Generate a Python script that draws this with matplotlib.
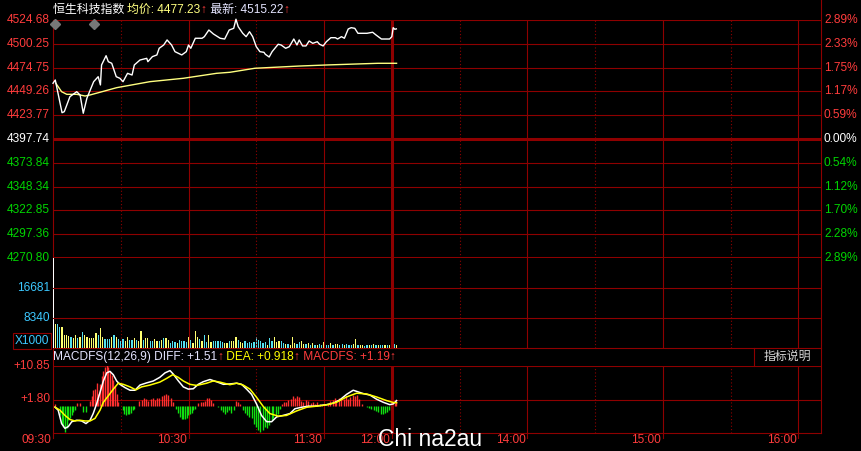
import matplotlib
matplotlib.use("Agg")
import matplotlib.pyplot as plt
from matplotlib.transforms import blended_transform_factory
import numpy as np

W, H = 862, 451
plt.rcParams['font.family'] = ['Liberation Sans', 'Noto Sans CJK SC', 'DejaVu Sans']

# ---- 分时数据 (分钟, 从 09:30 起; 12:00 与 13:00 重合于 150) ----
price_min = [0, 1, 4, 5, 7.5, 10.5, 12, 13.4, 15, 18, 20, 21, 21.5, 23.5, 24.5, 26, 28, 29.6,
             31, 33, 35, 36, 38.5, 41.5, 42, 44, 46, 47, 49, 50.5, 52.5, 54, 57, 59, 60, 61,
             63, 66, 67, 69, 71, 74, 76, 78, 80, 81, 82, 84, 85.5, 87, 88.4, 90, 91.6, 93.4,
             94, 95.7, 97, 99.7, 101, 103, 104.6, 106.6, 108, 109, 110.5, 112, 113.4, 115,
             117, 118, 119.6, 121, 123, 125, 126, 127.7, 129, 130.7, 132, 133.6, 135, 139,
             141.5, 143, 145.4, 149, 150, 150.6, 151.3, 152]
price_val = [4457.2, 4460.7, 4425.8, 4426.9, 4442.9, 4448.2, 4444.7, 4425.2, 4441.2, 4458.9,
             4464.2, 4455.4, 4476.7, 4486.6, 4480.2, 4478.5, 4464.2, 4462.5, 4458.9, 4467.8,
             4466.0, 4476.7, 4482.0, 4483.8, 4480.2, 4485.6, 4487.4, 4494.5, 4498.0, 4503.4,
             4498.0, 4490.9, 4487.4, 4490.9, 4498.0, 4494.5, 4505.2, 4505.2, 4506.9, 4514.0,
             4509.8, 4505.2, 4504.4, 4514.0, 4515.8, 4525.5, 4517.5, 4510.5, 4506.9, 4512.2,
             4506.9, 4496.2, 4490.9, 4490.2, 4488.1, 4485.2, 4490.9, 4498.8, 4498.0, 4494.5,
             4496.2, 4504.4, 4498.0, 4503.4, 4497.0, 4497.0, 4502.3, 4499.8, 4501.5, 4498.8,
             4497.0, 4501.5, 4505.8, 4505.8, 4504.4, 4506.9, 4505.2, 4515.1, 4516.5, 4515.8,
             4510.5, 4510.5, 4511.6, 4508.7, 4504.4, 4504.4, 4506.9, 4516.5, 4514.8, 4515.2]

avg_min = [1.3, 3.8, 6.1, 10.5, 14.2, 16.4, 20.8, 28.2, 42.9, 57.7, 72.4, 78.3, 89.4, 109.3,
           121.1, 143.9, 152.1]
avg_val = [4457.0, 4448.2, 4445.4, 4445.4, 4443.6, 4444.7, 4447.6, 4452.5, 4458.9, 4462.5,
           4467.8, 4468.9, 4473.2, 4475.6, 4476.7, 4478.5, 4478.5]

# 成交量 (X1000), 每分钟一根
vol = [25000,
       6670, 6670, 5750, 5930, 3615, 3615, 3430, 2970, 2870, 3615,
       2690, 3150, 4450, 3615, 2970, 2780, 2780, 2780, 4260, 3615,
       5560, 3150, 2600, 2600, 2600, 2970, 3710, 3150, 2410, 2040,
       2600, 2040, 3060, 2220, 2220, 2780, 2220, 2040, 4820, 2220,
       2690, 2690, 2040, 1950, 2600, 2040, 2040, 2220, 2780, 2690,
       2220, 1480, 2040, 1670, 1480, 2220, 1850, 1850, 1670, 3150,
       2220, 1300, 4730, 2970, 2410, 1850, 3710, 1670, 3710, 1670,
       1850, 1850, 2040, 1850, 1670, 1300, 1300, 2040, 1850, 1850,
       2970, 2220, 1670, 1300, 1850, 1480, 1670, 1480, 1670, 2970,
       2220, 1850, 1300, 1670, 930, 2780, 1850, 2970, 1670, 2040,
       2040, 1300, 1110, 1110, 930, 2970, 1300, 1110, 1670, 2040,
       1110, 1110, 1480, 930, 1480, 740, 740, 1110, 740, 1670,
       740, 930, 1300, 740, 1110, 1110, 930, 1110, 740, 1110,
       740, 740, 1110, 2410, 740, 930, 740, 560,
       740, 930, 740, 1110, 740, 930, 740,
       740, 740, 740, 930,
       3520, 1110, 740]
vol_dir = ("W"
           "YCCYYYYCYY" "CYCYYYYYYC" "YYCCCYCYCC" "CYYCCYCYYC" "YYCCYYCYCY" "YCCCYCCCCY"
           "CYYYCYCCYY" "CCCCCYYCYY" "YCYYCCCCCC" "CCCCYCCYYY" "CCYCYYYCCY"
           "YCYCYCYCCY" "CCYCYYCCYC" "CCYYCYYC" "CYCYCYC" "CYCY"
           "YCY")

# MACD
diff_min = [0.9, 2.3, 3.8, 5.3, 6.8, 8.3, 10.5, 12.7, 14.6, 16.4, 17.8, 19.3, 20.8, 22.3, 23.8,
            25.2, 26.7, 28.2, 29.6, 31.9, 34.1, 36.3, 38.5, 41.5, 44.4, 47.3, 49.6, 51.8, 53.2,
            55.4, 57.7, 59.9, 62.1, 64.3, 66.5, 69.5, 72.4, 75.4, 78.3, 81.3, 83.5, 85.7, 87.9,
            90.1, 92.3, 94.6, 96.8, 99, 101.9, 104.9, 107.1, 110, 113, 115.9, 121.1, 124, 127,
            130, 132.9, 134.4, 137.3, 140.3, 143.2, 146.2, 149.1, 150.6, 152.1]
diff_val = [-0.26, -1.1, -4.7, -6.0, -5.5, -4.2, -3.8, -4.0, -4.7, -3.8, -2.0, 0.6, 3.7, 6.8, 9.0,
            9.4, 8.5, 6.8, 5.9, 5.0, 4.3, 4.3, 5.7, 6.3, 6.8, 7.8, 9.0, 9.6, 8.7,
            6.9, 5.2, 4.6, 4.7, 5.9, 6.6, 7.2, 6.6, 5.9, 6.0, 6.2, 5.9, 4.6, 3.2,
            0.6, -2.5, -4.2, -4.2, -2.9, -2.5, -2.0, -0.7, -0.3, 0.0, 0.0, 0.4, 0.8, 1.7,
            3.2, 4.3, 4.0, 3.4, 3.0, 1.9, 1.05, 0.4, 0.6, 1.51]
dea_min = [0.9, 3.1, 5.3, 7.5, 9.7, 11.9, 14.2, 16.4, 18.6, 20.8, 22.3, 24.5, 26.7, 28.9, 31.1,
           34.1, 36.7, 39.2, 42.9, 47.3, 50.3, 53, 55.4, 57.7, 60.6, 63.6, 68, 70.9, 73.9,
           78.3, 81.3, 84.2, 87.2, 90.1, 93.1, 96, 99.7, 103.4, 107.8, 112.3, 116.7, 121.1,
           125.5, 130, 134.4, 138.8, 143.2, 147.7, 150.6, 152.1]
dea_val = [-0.26, -1.1, -2.5, -3.6, -4.0, -3.8, -4.0, -4.0, -3.3, -1.1, 1.05, 2.8, 4.6, 6.2, 5.9,
           5.2, 4.4, 5.2, 5.7, 6.5, 7.5, 8.5, 7.8, 6.8, 5.9, 5.6, 6.2, 6.8, 6.5,
           5.8, 6.2, 5.7, 4.6, 2.4, -0.1, -2.0, -2.7, -2.5, -1.3, -0.3, 0.0, 0.35,
           1.05, 2.5, 3.5, 3.3, 2.5, 1.5, 1.0, 0.918]
hist_min = [0.9, 3.1, 3.8, 4.6, 5.3, 6.0, 6.8, 7.5, 8.3, 9.0, 9.7, 10.5, 11.9, 13.4, 14.6,
            16.4, 17.1, 17.8, 18.6, 19.3, 20.0, 20.8, 21.5, 22.3, 23.0, 23.8, 24.5, 25.2, 26.0,
            26.7, 27.4, 28.2, 28.9, 30.8, 31.6, 32.3, 33.0, 33.8, 34.5, 35.3, 36.0, 38.2, 39.2,
            40.3, 41.2, 42.2, 43.2, 44.1, 45.1, 46.2, 47.0, 48.1, 49.1, 50.0, 51.0, 52.1, 53.2,
            54.4, 55.4, 56.2, 56.9, 57.7, 58.4, 59.2, 59.9, 60.6, 61.4, 62.1, 62.8, 64.3, 65.4,
            66.2, 67.3, 68.0, 69.0, 69.9, 70.9, 73.1, 74.2, 75.1, 76.1, 77.1, 78.0, 79.0, 80.0,
            81.0, 82.0, 83.0, 84.2, 85.0, 86.0, 86.9, 87.9, 88.9, 89.8, 90.8, 91.6, 92.8, 93.8,
            94.6, 95.7, 96.8, 97.5, 98.7, 99.7, 100.4, 101.2, 102.2, 103.1, 104.1, 105.2, 106.1,
            107.1, 107.8, 109.0, 110.0, 110.8, 112.0, 113.0, 114.0, 115.2, 115.9, 117.0, 118.1,
            118.9, 121.8, 122.6, 123.8, 124.8, 125.5, 126.7, 127.7, 128.8, 129.6, 130.7, 131.4,
            132.6, 133.6, 134.4, 135.5, 136.6, 138.8, 140.0, 141.0, 142.0, 142.9, 143.9, 145.0,
            146.2, 146.9, 147.9, 148.8, 151.3, 152.0]
hist_val = [0.6, -2.5, -4.7, -5.5, -6.9, -6.0, -3.8, -3.3, -2.5, -1.6, -1.0, 0.8, 0.8, -1.6, -1.6,
            1.5, 2.8, 4.3, 4.6, 6.3, 3.3, 6.1, 8.1, 9.4, 10.5, 11.5, 10.5, 9.4, 8.5,
            7.2, 5.4, 3.3, 1.05, -1.1, -2.0, -2.5, -2.0, -2.2, -1.8, -1.1, -0.7, 1.3, 1.7,
            2.2, 1.9, 1.5, 1.9, 2.1, 1.7, 2.2, 2.2, 2.8, 3.1, 3.3, 3.1, 2.2, 1.05,
            -0.7, -1.8, -2.9, -3.6, -3.6, -3.6, -3.3, -2.5, -2.0, -1.8, -1.1, -0.7, 0.8, 1.05,
            1.2, 1.3, 2.1, 2.1, 1.7, 0.8, -0.3, -1.1, -1.6, -2.0, -1.6, -1.1, -1.8, -1.1,
            1.5, 1.05, 0.6, -1.1, -1.8, -2.5, -2.9, -3.3, -4.7, -5.5, -6.4, -6.9, -6.4, -5.5,
            -6.0, -5.1, -3.8, -3.3, -2.7, -2.0, -0.7, 0.6, 1.05, 1.05, 1.7, 1.9, 2.8,
            2.2, 2.8, 2.4, 1.5, 1.05, 1.7, 1.3, 0.8, 1.05, 0.6, 1.05, 0.6,
            0.4, 0.6, 1.3, 1.7, 2.2, 1.7, 2.2, 2.2, 1.9, 2.8, 1.9, 2.4,
            3.1, 2.8, 3.1, 1.9, 0.6, -0.3, -0.4, -0.7, -1.1, -1.3, -1.6, -2.0,
            -2.2, -1.8, -1.6, -1.1, 0.8, 1.3]

event_min = [1, 18]

price_labels = ["4270.80", "4297.36", "4322.85", "4348.34", "4373.84", "4397.74",
                "4423.77", "4449.26", "4474.75", "4500.25", "4524.68"]
pct_labels = ["2.89%", "2.28%", "1.70%", "1.12%", "0.54%", "0.00%",
              "0.59%", "1.17%", "1.75%", "2.33%", "2.89%"]
vol_ticks = [8340, 16681]
vol_top = 25021
macd_ticks = [1.80, 10.85]
macd_low = -7.25
time_pos = [0, 60, 120, 150, 210, 270, 330]
time_labels = ["09:30", "10:30", "11:30", "12:00", "14:00", "15:00", "16:00"]
solid_min = [60, 120, 210, 270, 330]
dotted_min = [30, 90, 180, 240, 300]
break_min = 150
day_end = 340

# ---- 样式 ----
BG = "black"
GRID = "#8e0000"
RED = "#ff3c3c"
GREEN = "#00d400"
CYAN = "#3cc8ff"
YEL = "#ffff80"
FS = 8.6

fig = plt.figure(figsize=(W / 100, H / 100), dpi=100, facecolor=BG)

ov = fig.add_axes([0, 0, 1, 1], zorder=0)
ov.set_xlim(0, W)
ov.set_ylim(H, 0)
ov.set_axis_off()


def px_axes(x0, y0, x1, y1):
    a = fig.add_axes([x0 / W, 1 - y1 / H, (x1 - x0) / W, (y1 - y0) / H], zorder=1)
    a.set_xlim(0, day_end)
    a.set_axis_off()
    return a


def vgrid(a):
    for m in solid_min:
        a.axvline(m, color=GRID, lw=0.8)
    for m in dotted_min:
        a.axvline(m, color=GRID, lw=0.8, ls=(0, (1, 2)))
    a.axvline(break_min, color=GRID, lw=2.2)


def left_label(a, y, s, c):
    a.annotate(s, xy=(0, y), xycoords=("axes fraction", "data"), xytext=(-3, 0),
               textcoords="offset pixels", ha="right", va="center", color=c, fontsize=FS)


# 价格区
ax = px_axes(53, 20, 821, 258)
lo, hi = float(price_labels[0]), float(price_labels[-1])
ax.set_ylim(lo, hi)
levels = np.linspace(lo, hi, len(price_labels))
vgrid(ax)
for i, (lv, s, p) in enumerate(zip(levels, price_labels, pct_labels)):
    mid = len(levels) // 2
    ax.axhline(lv, color=GRID, lw=2.2 if i in (0, mid) else 0.8)
    c = "white" if i == mid else (GREEN if i < mid else RED)
    left_label(ax, lv, s, c)
    ax.annotate(p, xy=(1, lv), xycoords=("axes fraction", "data"), xytext=(3, 0),
                textcoords="offset pixels", ha="left", va="center", color=c, fontsize=FS)
ax.plot(avg_min, avg_val, color=YEL, lw=1.0)
ax.plot(price_min, price_val, color="white", lw=1.0, clip_on=False)
tr = blended_transform_factory(ax.transData, ax.transAxes)
ax.plot(event_min, [0.985] * len(event_min), "D", color="#777777", ms=5.5, transform=tr,
        clip_on=False)

# 成交量
av = px_axes(53, 258, 821, 348)
av.set_ylim(0, vol_top)
vgrid(av)
for v in vol_ticks:
    av.axhline(v, color=GRID, lw=0.8)
    left_label(av, v, str(v), CYAN)
cmap = {"W": "white", "Y": "#ffff70", "C": "#55e0f0"}
av.bar(np.arange(len(vol)), vol, width=0.55, color=[cmap[d] for d in vol_dir], lw=0)
ov.text(49, 341, "X1000", ha="right", va="center", color=CYAN, fontsize=FS,
        bbox=dict(facecolor=BG, edgecolor=GRID, pad=1.2, lw=0.8))

# MACD
am = px_axes(53, 366, 821, 433)
am.set_ylim(macd_low, macd_ticks[-1])
vgrid(am)
for v in macd_ticks:
    am.axhline(v, color=GRID, lw=0.8)
    left_label(am, v, f"+{v:.2f}", RED)
hv = np.array(hist_val)
am.vlines(hist_min, 0, hv, colors=np.where(hv >= 0, "#ff3030", "#10e010"), lw=1.0)
am.plot(diff_min, diff_val, color="white", lw=1.1)
am.plot(dea_min, dea_val, color="#ffff00", lw=1.1)

trm = blended_transform_factory(am.transData, am.transAxes)
for m, s in zip(time_pos, time_labels):
    am.plot([m, m], [0, -0.07], color=GRID, lw=0.8, transform=trm, clip_on=False)
    am.annotate(s, xy=(m, 0), xycoords=trm, xytext=(-2, -7), textcoords="offset pixels",
                ha="right", va="center", color=RED, fontsize=FS)

# 边框
ov.plot([821, 821], [0, 433], color=GRID, lw=0.8)
ov.plot([53, 53], [20, 433], color=GRID, lw=0.8)
ov.plot([53, 821], [348, 348], color=GRID, lw=0.8)
ov.plot([53, 821], [433, 433], color=GRID, lw=0.8)
ov.plot([754, 754], [348, 366], color=GRID, lw=0.8)
ov.text(787, 357, "指标说明", ha="center", va="center", color="#d8d8d8", fontsize=FS)


def chain(x, y, parts):
    prev = ov.text(x, y, parts[0][0], color=parts[0][1], fontsize=FS, ha="left", va="center")
    for s, c in parts[1:]:
        prev = ov.annotate(s, xy=(1, 0.5), xycoords=prev, ha="left", va="center",
                           color=c, fontsize=FS)


chain(53, 10, [("恒生科技指数 ", "white"), ("均价: 4477.23", YEL), ("↑", RED),
               (" 最新: 4515.22", "#e4e4ff"), ("↑", RED)])
chain(53, 357, [("MACDFS(12,26,9) DIFF: +1.51", "#e4e4ff"), ("↑", RED),
                (" DEA: +0.918", "#ffff00"), ("↑", RED), (" MACDFS: +1.19", RED), ("↑", RED)])

fig.text(378 / W, 1 - 446 / H, "Chi na2au", color="white", fontsize=16.5,
         family="Liberation Sans", ha="left", va="baseline", zorder=10)

fig.savefig("out.png", dpi=100, facecolor=BG)
